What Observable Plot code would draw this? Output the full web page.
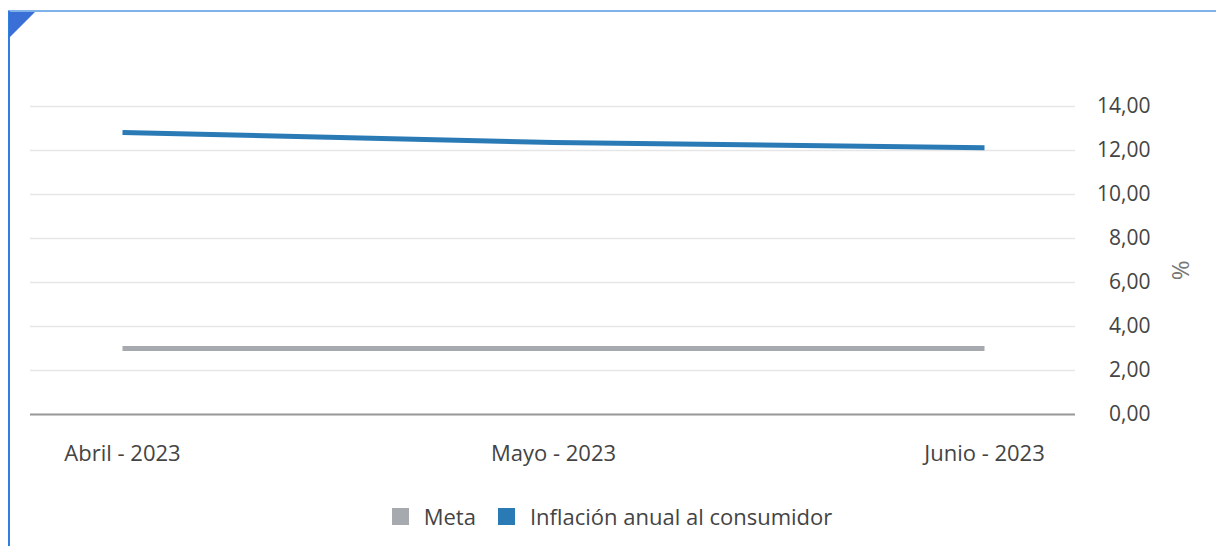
<!DOCTYPE html>
<html>
<head>
<meta charset="utf-8">
<script src="https://cdn.jsdelivr.net/npm/d3@7"></script>
<script src="https://cdn.jsdelivr.net/npm/@observablehq/plot@0.6"></script>
<style>
  html, body { margin: 0; padding: 0; background: #fff; }
  #wrap { position: relative; width: 1216px; height: 546px; overflow: hidden; font-family: "Open Sans", "Noto Sans", sans-serif; }
  #bl { position: absolute; left: 8px; top: 11px; width: 2px; height: 535px; background: #2f7fe0; }
  #bt { position: absolute; left: 8px; top: 10px; width: 1208px; height: 2px; background: #7fb2ea; }
  #tri { position: absolute; left: 9px; top: 12px; width: 0; height: 0; border-top: 26px solid #3a6fd6; border-right: 26px solid transparent; }
  #chart { position: absolute; left: 0; top: 0; }
  #legend { position: absolute; left: 0; top: 501px; width: 1224px; display: flex; justify-content: center; align-items: center; font-size: 22px; color: #444; }
  .sw { width: 17px; height: 17px; display: inline-block; margin-right: 15px; }
  .item { display: flex; align-items: center; margin: 0 11px; }
</style>
</head>
<body>
<div id="wrap">
  <div id="chart"></div>
  <div id="bt"></div>
  <div id="bl"></div>
  <div id="tri"></div>
  <div id="legend"></div>
</div>
<script>
const months = ["Abril - 2023", "Mayo - 2023", "Junio - 2023"];
const inflacion = [12.82, 12.36, 12.13];
const meta = [3, 3, 3];
const seriesNames = ["Meta", "Inflación anual al consumidor"];
const seriesColors = ["#a6a9ae", "#2a7ab6"];
const yTicks = [0, 2, 4, 6, 8, 10, 12, 14];

const data = [];
months.forEach((m, i) => {
  data.push({month: m, value: meta[i], serie: seriesNames[0]});
});
months.forEach((m, i) => {
  data.push({month: m, value: inflacion[i], serie: seriesNames[1]});
});

const fmt = d => d.toFixed(2).replace(".", ",");

const chart = Plot.plot({
  width: 1216,
  height: 480,
  marginLeft: 30,
  marginRight: 141,
  marginTop: 106,
  marginBottom: 66,
  style: { fontFamily: "'Open Sans', 'Noto Sans', sans-serif", fontSize: "20px", color: "#444", background: "transparent" },
  x: { type: "point", domain: months, padding: 0.21 },
  y: { domain: [0, 14] },
  color: { domain: seriesNames, range: seriesColors },
  marks: [
    Plot.gridY(yTicks, { stroke: "#e6e6e6", strokeOpacity: 1, strokeWidth: 1.5 }),
    Plot.ruleY([0], { stroke: "#999", strokeWidth: 2 }),
    Plot.axisX({ tickSize: 0, tickPadding: 31, label: null, fill: "#444", fontSize: 22 }),
    Plot.axisY(yTicks, { anchor: "right", tickSize: 0, tickPadding: 0, textAnchor: "end", dx: 75, tickFormat: fmt, label: null, fill: "#444", fontSize: 21 }),
    Plot.text(["%"], { frameAnchor: "right", dx: 106, rotate: -90, fill: "#777", fontSize: 24 }),
    Plot.line(data, { x: "month", y: "value", z: "serie", stroke: "serie", strokeWidth: 5, strokeLinecap: "butt" })
  ]
});
document.getElementById("chart").appendChild(chart);

const legend = document.getElementById("legend");
seriesNames.forEach((n, i) => {
  const it = document.createElement("div");
  it.className = "item";
  const sw = document.createElement("span");
  sw.className = "sw";
  sw.style.background = seriesColors[i];
  const t = document.createElement("span");
  t.textContent = n;
  it.appendChild(sw);
  it.appendChild(t);
  legend.appendChild(it);
});
</script>
</body>
</html>
